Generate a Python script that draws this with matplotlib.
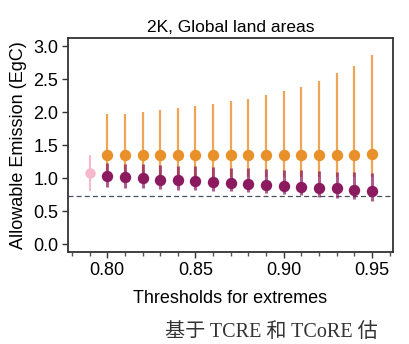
import numpy as np
import matplotlib
matplotlib.use('Agg')
import matplotlib.pyplot as plt
from matplotlib.ticker import MultipleLocator

# Set figure size (pixels at 100 dpi)
fig_w, fig_h = 4.09, 3.44

plt.rcParams['font.family'] = ['Liberation Sans', 'DejaVu Sans']
plt.rcParams['font.size'] = 13
plt.rcParams['axes.linewidth'] = 1.3
plt.rcParams['axes.edgecolor'] = '#333333'

# thresholds for extremes
thresholds = [0.80, 0.81, 0.82, 0.83, 0.84, 0.85, 0.86, 0.87,
              0.88, 0.89, 0.90, 0.91, 0.92, 0.93, 0.94, 0.95]

# TCRE based estimate (orange)
orange_mid = [1.36, 1.36, 1.36, 1.36, 1.36, 1.36, 1.36, 1.36,
              1.36, 1.36, 1.36, 1.36, 1.36, 1.36, 1.36, 1.37]
orange_low = [1.02, 1.02, 1.02, 1.02, 1.02, 1.02, 1.02, 1.02,
              1.02, 1.02, 1.02, 1.02, 1.02, 1.02, 1.02, 1.02]
orange_high = [1.97, 1.98, 2.01, 2.04, 2.07, 2.09, 2.13, 2.17,
               2.21, 2.26, 2.32, 2.39, 2.48, 2.59, 2.71, 2.87]

# TCoRE based estimate (purple)
purple_mid = [1.03, 1.02, 1.00, 0.98, 0.97, 0.96, 0.94, 0.93,
              0.92, 0.90, 0.89, 0.87, 0.86, 0.85, 0.83, 0.81]
purple_low = [0.87, 0.86, 0.85, 0.84, 0.83, 0.82, 0.81, 0.80,
              0.79, 0.77, 0.76, 0.74, 0.72, 0.70, 0.68, 0.65]
purple_high = [1.23, 1.22, 1.21, 1.20, 1.19, 1.18, 1.17, 1.16,
               1.15, 1.14, 1.13, 1.12, 1.11, 1.10, 1.09, 1.08]

# reference point (pink)
ref_x = [0.79]
ref_mid = [1.08]
ref_low = [0.80]
ref_high = [1.35]

# dashed line level
hline_y = 0.73

orange = '#E8902A'
purple = '#8B1A5E'
pink = '#F6B8CA'

fig = plt.figure(figsize=(fig_w, fig_h), dpi=100)
ax = fig.add_axes([0.166, 0.267, 0.795, 0.623])

ax.axhline(hline_y, color='#4a5060', lw=0.9, ls=(0, (4, 2.5)), zorder=1)

ax.vlines(ref_x, ref_low, ref_high, color=pink, lw=1.5, zorder=2)
ax.plot(ref_x, ref_mid, 'o', color=pink, ms=7.5, mew=0, zorder=3)

ax.vlines(thresholds, orange_low, orange_high, color=orange, alpha=0.8,
          lw=1.6, zorder=2)
ax.plot(thresholds, orange_mid, 'o', color=orange, ms=8.2, mew=0, zorder=4)

ax.vlines(thresholds, purple_low, purple_high, color=purple, alpha=0.7,
          lw=2.2, zorder=3)
ax.plot(thresholds, purple_mid, 'o', color=purple, ms=8.2, mew=0, zorder=5)

ax.set_xlim(0.7777, 0.962)
ax.set_ylim(-0.12, 3.13)
ax.xaxis.set_major_locator(MultipleLocator(0.05))
ax.xaxis.set_minor_locator(MultipleLocator(0.01))
ax.yaxis.set_major_locator(MultipleLocator(0.5))
ax.xaxis.set_major_formatter(plt.FormatStrFormatter('%.2f'))
ax.yaxis.set_major_formatter(plt.FormatStrFormatter('%.1f'))
ax.tick_params(axis='both', which='major', length=4, width=1, color='#333333', pad=3)
ax.tick_params(axis='x', which='minor', length=3, width=1, color='#555555')

ax.set_title('2K, Global land areas', fontsize=12.5, pad=4)
ax.set_xlabel('Thresholds for extremes', fontsize=13, labelpad=8)
ax.set_ylabel('Allowable Emission (EgC)', fontsize=13, labelpad=4)

fig.text(0.403, 0.035, '基于 TCRE 和 TCoRE 估', fontsize=14.5, va='center',
         family=['Liberation Serif', 'Noto Sans CJK SC'], color='#333333')

fig.savefig('out.png', dpi=100)
